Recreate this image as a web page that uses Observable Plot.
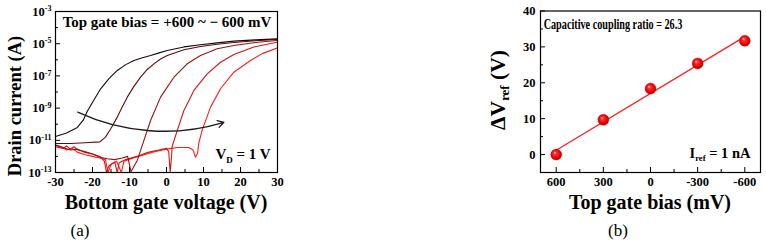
<!DOCTYPE html>
<html>
<head>
<meta charset="utf-8">
<script src="https://cdn.jsdelivr.net/npm/d3@7"></script>
<script src="https://cdn.jsdelivr.net/npm/@observablehq/plot@0.6"></script>
<style>
  html, body { margin: 0; padding: 0; background: #fff; }
  #wrap { position: relative; width: 766px; height: 242px; overflow: hidden; font-family: "Liberation Serif", "Times New Roman", serif; }
  #wrap svg text { font-family: "Liberation Serif", "Times New Roman", serif; font-weight: bold; }
  .lbl { position: absolute; white-space: nowrap; font-weight: bold; color: #000; line-height: 1; }
  .lbl sub { font-size: 0.6em; vertical-align: -0.35em; }
</style>
</head>
<body>
<div id="wrap"></div>
<script>
// ---------- Data (a): bottom gate voltage (V) vs log10 drain current (A) ----------
const curveP600 = [[-30,-10.76],[-27,-10.55],[-24.1,-10.2],[-22.5,-9.75],[-21.4,-9.2],[-19.5,-8.45],[-17.8,-7.8],[-15.5,-7.15],[-13.3,-6.66],[-11,-6.3],[-8.8,-6.04],[-6.5,-5.87],[-4.3,-5.73],[-2,-5.57],[0.2,-5.42],[4.7,-5.2],[9.2,-5.07],[13.7,-4.95],[18.2,-4.84],[24,-4.76],[30,-4.70]];
const curveP300 = [[-30,-11.2],[-26,-11.2],[-22,-11.15],[-18,-11.1],[-16.5,-10.8],[-15.1,-10.3],[-13.3,-9.56],[-12,-8.95],[-10.6,-8.32],[-8.8,-7.65],[-7,-7.08],[-5.2,-6.6],[-3.4,-6.25],[-1.6,-5.95],[0.2,-5.73],[4.7,-5.38],[9.2,-5.17],[13.7,-5.03],[18.2,-4.93],[24,-4.82],[30,-4.74]];
const curve0 = [[-30,-11.3],[-28,-11.45],[-26,-11.6],[-24,-11.55],[-22,-11.75],[-20,-11.85],[-18,-12.05],[-16,-12.15],[-14,-12.2],[-12,-12.1],[-10.5,-12.0],[-9.6,-12.95],[-9.0,-12.7],[-7.9,-12.25],[-6.1,-11.0],[-4.3,-9.77],[-1.6,-8.32],[2,-7.08],[5.6,-6.25],[9.2,-5.73],[13.7,-5.31],[18.2,-5.11],[24,-4.93],[30,-4.8]];
const curveM300 = [[-30,-11.4],[-28,-11.5],[-27,-11.35],[-26,-11.55],[-25,-11.4],[-24,-11.6],[-22,-11.7],[-20,-11.85],[-18,-12.0],[-16.8,-12.3],[-16.2,-13],[-15.6,-12.6],[-14,-12.35],[-13.3,-13],[-12.8,-12.4],[-11,-12.2],[-8,-12.0],[-5,-11.75],[-2,-11.6],[0,-11.5],[0.6,-11.7],[1.0,-13],[1.4,-11.9],[1.5,-11.4],[2.9,-10.4],[4.7,-9.15],[7.4,-7.9],[11,-6.87],[14.6,-6.15],[18.2,-5.67],[23.6,-5.2],[30,-4.9]];
const curveM600 = [[-30,-11.3],[-28.5,-11.4],[-27,-11.6],[-25.5,-11.5],[-24,-11.75],[-22,-11.9],[-20,-12.0],[-18,-12.1],[-16.5,-12.2],[-15.8,-13],[-15,-12.5],[-13.5,-12.3],[-12.2,-13],[-11.5,-12.3],[-9,-12.1],[-6,-11.9],[-3,-11.7],[0,-11.55],[3,-11.45],[6,-11.45],[7.2,-11.6],[7.8,-12.05],[8.4,-11.8],[8.7,-11.2],[9.6,-10.4],[11.9,-8.94],[14.6,-7.8],[18.2,-6.77],[22.7,-6.04],[26,-5.6],[30,-5.26]];
const curveColors = ["#1e0606", "#5c0c0c", "#9a1010", "#d41414", "#ff1a1a"];
const arrowA = {x1: -24, e1: -9.25, x2: 15.5, e2: -9.88};
const xTicksA = [-30, -20, -10, 0, 10, 20, 30];
const xMinorA = [-25, -15, -5, 5, 15, 25];
const yExpLabels = [-3, -5, -7, -9, -11, -13];
const yExpMinor = [-4, -6, -8, -10, -12];

// ---------- Data (b): top gate bias (mV) vs ΔVref (V) ----------
const tgBias = [600, 300, 0, -300, -600];
const dVref = [0, 9.7, 18.4, 25.4, 31.7];
const yTicksB = [0, 10, 20, 30, 40];
const yMinorB = [-5, 5, 15, 25, 35];
const xMinorB = [450, 150, -150, -450];

const FONT = '"Liberation Serif", "Times New Roman", serif';
const wrap = document.getElementById("wrap");

// ---------- Panel (a) ----------
const aML = 55, aMT = 11, aW = 290, aH = 242, aMR = aW - 277, aMB = aH - 172;
const aFW = aW - aML - aMR, aFH = aH - aMT - aMB;
const curves = [curveP600, curveP300, curve0, curveM300, curveM600];

const plotA = Plot.plot({
  width: aW, height: aH,
  marginLeft: aML, marginRight: aMR, marginTop: aMT, marginBottom: aMB,
  style: {fontFamily: FONT, fontWeight: "bold", fontSize: "12.5px", color: "#000", background: "transparent", overflow: "visible"},
  x: {domain: [-30, 30], ticks: xTicksA, tickSize: 0, tickPadding: 5, label: null, tickFormat: d => String(d)},
  y: {type: "log", domain: [1e-13, 1e-3], ticks: yExpLabels.map(e => 10 ** e), tickSize: 0, tickPadding: 4, label: null, tickFormat: d => "10^" + Math.round(Math.log10(d))},
  marks: [
    ...curves.slice().reverse().map((c, i) => Plot.line(c, {x: d => d[0], y: d => 10 ** d[1], stroke: curveColors[curves.length - 1 - i], strokeWidth: 1.1, clip: true})),
    Plot.arrow([arrowA], {x1: "x1", y1: d => 10 ** d.e1, x2: "x2", y2: d => 10 ** d.e2, bend: -21, stroke: "#1a1a1a", strokeWidth: 1.3, headLength: 8}),
    Plot.ruleX(xTicksA, {x: d => d, insetTop: aFH - 5, stroke: "#000", strokeWidth: 1}),
    Plot.ruleX(xMinorA, {x: d => d, insetTop: aFH - 3, stroke: "#000", strokeWidth: 1}),
    Plot.ruleY(yExpLabels.map(e => 10 ** e), {y: d => d, insetRight: aFW - 5, stroke: "#000", strokeWidth: 1}),
    Plot.ruleY(yExpMinor.map(e => 10 ** e), {y: d => d, insetRight: aFW - 3, stroke: "#000", strokeWidth: 1}),
    Plot.frame({stroke: "#000", strokeWidth: 1.2})
  ]
});
plotA.style.position = "absolute";
plotA.style.left = "0px";
plotA.style.top = "0px";
wrap.appendChild(plotA);

// superscript exponents on the log axis labels
plotA.querySelectorAll('g[aria-label="y-axis tick label"] text').forEach(t => {
  const s = t.textContent;
  if (s.startsWith("10^")) {
    const e = s.slice(3);
    t.textContent = "";
    const base = document.createElementNS("http://www.w3.org/2000/svg", "tspan");
    base.textContent = "10";
    const sup = document.createElementNS("http://www.w3.org/2000/svg", "tspan");
    sup.textContent = e;
    sup.setAttribute("font-size", "8");
    sup.setAttribute("dy", "-0.55em");
    t.appendChild(base); t.appendChild(sup);
  }
});

// ---------- Panel (b) ----------
const bLeft = 400, bW = 366, bH = 242;
const bML = 540 - bLeft, bMR = bLeft + bW - 760, bMT = 10.5, bMB = bH - 172;
const bFW = bW - bML - bMR, bFH = bH - bMT - bMB;
const tableB = tgBias.map((b, i) => ({bias: b, dv: dVref[i]}));

const plotB = Plot.plot({
  width: bW, height: bH,
  marginLeft: bML, marginRight: bMR, marginTop: bMT, marginBottom: bMB,
  style: {fontFamily: FONT, fontWeight: "bold", fontSize: "12.5px", color: "#000", background: "transparent", overflow: "visible"},
  x: {domain: [700, -700], ticks: tgBias, tickSize: 0, tickPadding: 5, label: null, tickFormat: d => String(d)},
  y: {domain: [-5, 40], ticks: yTicksB, tickSize: 0, tickPadding: 5, label: null},
  marks: [
    Plot.linearRegressionY(tableB, {x: "bias", y: "dv", ci: 0, stroke: "#ff1a1a", strokeWidth: 1.2}),
    Plot.dot(tableB, {x: "bias", y: "dv", r: 5.5, fill: "url(#sphereRed)", stroke: "#c00000", strokeWidth: 0.4}),
    Plot.ruleX(tgBias, {x: d => d, insetTop: bFH - 5, stroke: "#000", strokeWidth: 1}),
    Plot.ruleX(xMinorB, {x: d => d, insetTop: bFH - 3, stroke: "#000", strokeWidth: 1}),
    Plot.ruleY(yTicksB, {y: d => d, insetRight: bFW - 5, stroke: "#000", strokeWidth: 1}),
    Plot.ruleY(yMinorB, {y: d => d, insetRight: bFW - 3, stroke: "#000", strokeWidth: 1}),
    Plot.frame({stroke: "#000", strokeWidth: 1.2})
  ]
});
// sphere gradient
{
  const ns = "http://www.w3.org/2000/svg";
  const defs = document.createElementNS(ns, "defs");
  const g = document.createElementNS(ns, "radialGradient");
  g.setAttribute("id", "sphereRed");
  g.setAttribute("cx", "0.5"); g.setAttribute("cy", "0.5"); g.setAttribute("r", "0.55");
  g.setAttribute("fx", "0.36"); g.setAttribute("fy", "0.32");
  [["0", "#ffd0d0"], ["0.25", "#ff3030"], ["0.75", "#e00000"], ["1", "#a00000"]].forEach(([o, c]) => {
    const s = document.createElementNS(ns, "stop");
    s.setAttribute("offset", o); s.setAttribute("stop-color", c);
    g.appendChild(s);
  });
  defs.appendChild(g);
  plotB.insertBefore(defs, plotB.firstChild);
}
plotB.style.position = "absolute";
plotB.style.left = bLeft + "px";
plotB.style.top = "0px";
wrap.appendChild(plotB);

// ---------- Text labels ----------
function label(html, x, y, size, opts = {}) {
  const d = document.createElement("div");
  d.className = "lbl";
  d.innerHTML = html;
  d.style.fontSize = size + "px";
  d.style.left = x + "px";
  d.style.top = y + "px";
  d.style.transform = "translate(-50%, -50%)" + (opts.rot ? " rotate(-90deg)" : "") + (opts.sx ? " scaleX(" + opts.sx + ")" : "");
  if (opts.normal) d.style.fontWeight = "normal";
  wrap.appendChild(d);
}
label("Drain current (A)", 15, 106, 18.5, {rot: true});
label("Bottom gate voltage (V)", 166, 202, 20);
label("Top gate bias = +600 ~ \u2212 600 mV", 167, 22, 15);
label("V<sub>D</sub> = 1 V", 243, 156, 15);
label("(a)", 80, 230, 17, {normal: true});

label("\u0394V<sub>ref</sub> (V)", 500, 90, 21.5, {rot: true});
label("Top gate bias (mV)", 650, 202, 20);
label("Capacitive coupling ratio = 26.3", 613, 24, 15, {sx: 0.68});
label("I<sub>ref</sub> = 1 nA", 720, 154, 14.5);
label("(b)", 618, 230, 17, {normal: true});
</script>
</body>
</html>
